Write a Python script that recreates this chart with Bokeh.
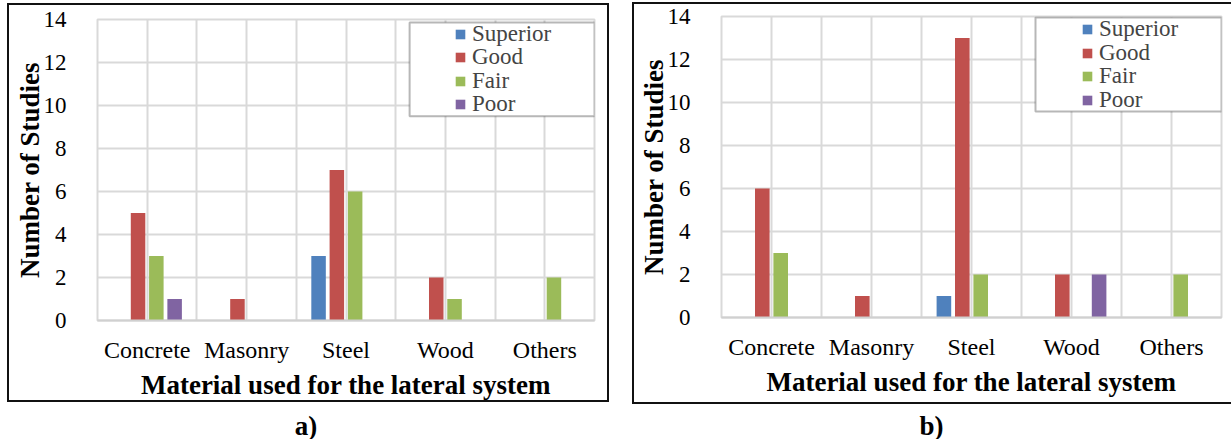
from bokeh.plotting import figure
from bokeh.models import (FactorRange, Range1d, FixedTicker, Legend, LegendItem,
                          BoxAnnotation, Div, Spacer)
from bokeh.layouts import row, column
from bokeh.transform import dodge
from bokeh.embed import file_html
from bokeh.resources import INLINE

# ---------------- data ----------------
materials = ["Concrete", "Masonry", "Steel", "Wood", "Others"]
ratings = ["Superior", "Good", "Fair", "Poor"]
colors = ["#4f81bd", "#c0504d", "#9bbb59", "#8064a2"]

a_superior = [0, 0, 3, 0, 0]
a_good = [5, 1, 7, 2, 0]
a_fair = [3, 0, 6, 1, 2]
a_poor = [1, 0, 0, 0, 0]

b_superior = [0, 0, 1, 0, 0]
b_good = [6, 1, 13, 2, 0]
b_fair = [3, 0, 2, 0, 2]
b_poor = [0, 0, 0, 2, 0]

y_ticks = [0, 2, 4, 6, 8, 10, 12, 14]
x_label = "Material used for the lateral system"
y_label = "Number of Studies"
panel_labels = ["a)", "b)"]

# ---------------- style ----------------
SERIF = "Liberation Serif"
GRID = "#d9d9d9"
BOX = "#111111"


def make_panel(series, width, height, borders, legend_x, legend_y0, legend_pitch, box, sides):
    left, right, top, bottom = borders
    p = figure(x_range=FactorRange(*materials), y_range=Range1d(0, 14),
               width=width, height=height, output_backend="svg",
               toolbar_location=None,
               min_border_left=left, min_border_right=right,
               min_border_top=top, min_border_bottom=bottom,
               border_fill_color=None, background_fill_color="white",
               outline_line_color=GRID, outline_line_width=2)
    n = len(ratings)
    pitch = 0.184
    rends = []
    for i, (name, vals, col) in enumerate(zip(ratings, series, colors)):
        off = (i - (n - 1) / 2) * pitch
        r = p.vbar(x=dodge("x", off, range=p.x_range), top="top", width=0.146,
                   source=dict(x=materials, top=vals),
                   fill_color=col, line_color=None)
        rends.append(r)

    # grid
    p.ygrid.ticker = FixedTicker(ticks=y_ticks)
    p.ygrid.grid_line_color = GRID
    p.ygrid.grid_line_width = 2
    p.xgrid.ticker = FixedTicker(ticks=[k / 2 for k in range(1, 2 * len(materials))])
    p.xgrid.grid_line_color = GRID
    p.xgrid.grid_line_width = 2

    # axes
    p.yaxis.ticker = FixedTicker(ticks=y_ticks)
    for ax in (p.xaxis[0], p.yaxis[0]):
        ax.major_tick_line_color = None
        ax.minor_tick_line_color = None
        ax.major_label_text_font = SERIF
        ax.major_label_text_color = "black"
        ax.axis_label_text_font = SERIF
        ax.axis_label_text_font_size = "27px"
        ax.axis_label_text_font_style = "bold"
        ax.axis_label_text_color = "black"
    p.yaxis.major_label_text_font_size = "23px"
    p.xaxis.major_label_text_font_size = "24px"
    p.yaxis.axis_line_color = None
    p.yaxis.major_label_standoff = 25
    p.yaxis.axis_label_standoff = -4
    p.yaxis.axis_label = y_label
    p.xaxis.axis_line_color = "#d0d0d0"
    p.xaxis.axis_line_width = 2
    p.xaxis.major_label_standoff = 10
    p.xaxis.axis_label_standoff = 4
    p.xaxis.axis_label = x_label

    # legend box + one legend per item (exact row pitch)
    bl, br, bt, bb = box
    p.add_layout(BoxAnnotation(left=bl, right=br, top=bt, bottom=bb,
                               fill_color="white", fill_alpha=1,
                               line_color=BOX, line_width=2))
    for i, (nm, r) in enumerate(zip(ratings, rends)):
        lg = Legend(items=[LegendItem(label=nm, renderers=[r])],
                    location=(legend_x, round(legend_y0 - i * legend_pitch)),
                    border_line_alpha=0, background_fill_alpha=0,
                    glyph_width=12, glyph_height=12, label_standoff=6,
                    label_text_font=SERIF, label_text_font_size="23px",
                    label_height=20, spacing=0, padding=0, margin=0)
        p.add_layout(lg, "center")

    shadows = []
    if "l" in sides:
        shadows.append("inset 2px 0 0 " + BOX)
    if "r" in sides:
        shadows.append("inset -2px 0 0 " + BOX)
    if "t" in sides:
        shadows.append("inset 0 2px 0 " + BOX)
    if "b" in sides:
        shadows.append("inset 0 -2px 0 " + BOX)
    p.styles = {"box-shadow": ", ".join(shadows)}
    return p


def make_label(text, width):
    return Div(text=text, width=width, height=30,
               styles={"font-family": SERIF, "font-size": "27px", "font-weight": "bold",
                       "text-align": "center", "line-height": "1", "color": "black"})


pa = make_panel([a_superior, a_good, a_fair, a_poor], 602, 399,
                (90, 15, 16, 81), 357, 273, 23.3, (3.14, 5.0, 13.86, 9.5), "lrtb")
pb = make_panel([b_superior, b_good, b_fair, b_poor], 599, 402,
                (89, 10, 14, 87), 360, 275, 23.7, (3.14, 5.0, 13.95, 9.58), "ltb")

col_a = column(Spacer(width=602, height=3), pa, Spacer(width=602, height=6),
               make_label(panel_labels[0], 588))
col_b = column(Spacer(width=599, height=2), pb, Spacer(width=599, height=4),
               make_label(panel_labels[1], 589))

layout = row(Spacer(width=7, height=10), col_a, Spacer(width=23, height=10), col_b)

open("out.html", "w").write(file_html(layout, INLINE))
